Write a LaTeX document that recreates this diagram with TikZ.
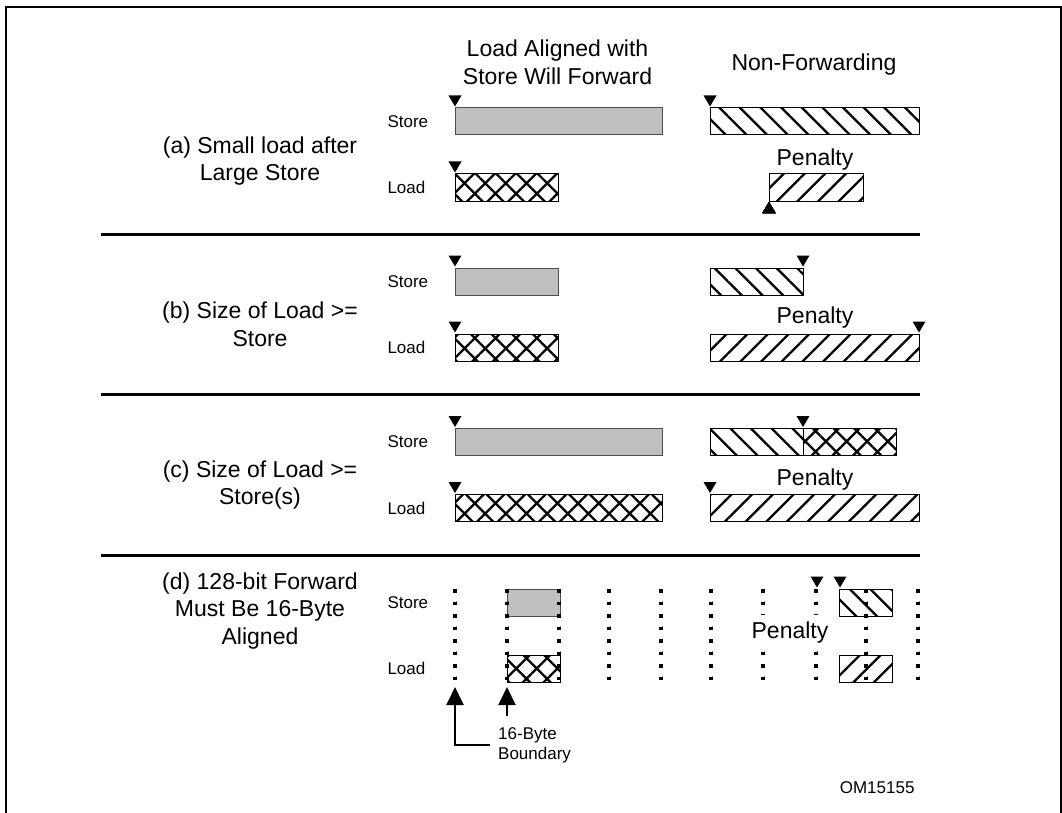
\documentclass[tikz,border=0pt]{standalone}
\usepackage{fontspec}
\setmainfont{Liberation Sans}
\usetikzlibrary{positioning,arrows.meta,patterns.meta}

\definecolor{bargray}{RGB}{192,192,192}
\tikzset{
  bigtxt/.style={font=\fontsize{23}{27.6}\selectfont},
  smalltxt/.style={font=\fontsize{17}{20.7}\selectfont},
  graybar/.style={fill=bargray,draw=black!70,line width=1pt},
  crossbar/.style={pattern={Hatch[angle=45,distance=14.6pt,line width=2.3pt]},draw=black,line width=1pt},
  backbar/.style={pattern={Lines[angle=-45,distance=14.6pt,line width=2.3pt]},draw=black,line width=1pt},
  fwdbar/.style={pattern={Lines[angle=45,distance=14.6pt,line width=2.3pt]},draw=black,line width=1pt},
  sepline/.style={line width=3pt},
  boundline/.style={line width=3.2pt,dash pattern=on 3.5pt off 9pt},
  pointer/.style={line width=2pt,-{Triangle[length=18pt,width=17pt]}},
}
\newcommand\tickdown[2]{\fill (#1,#2) -- ++(-6.5,-11) -- ++(13,0) -- cycle;}
\newcommand\tickup[2]{\fill (#1,#2) -- ++(-6.5,11) -- ++(13,0) -- cycle;}

\begin{document}
\begin{tikzpicture}[x=1pt,y=-1pt]
  \useasboundingbox (0,0) rectangle (1062,813);
  % frame
  \draw[line width=2pt] (5.7,813) -- (5.7,7) -- (1060.5,7) -- (1060.5,813);
  % headings
  \node[bigtxt,align=center] (hdfwd) at (557.5,62.1) {Load Aligned with\\Store Will Forward};
  \node[bigtxt,anchor=base] (hdnon) at (814,71) {Non-Forwarding};
  % case labels
  \node[bigtxt,align=center] (casea) at (260,161) {(a) Small load after\\Large Store};
  \node[bigtxt,align=center] (caseb) at (260,324) {(b) Size of Load >=\\Store};
  \node[bigtxt,align=center] (casec) at (260,485) {(c) Size of Load >=\\Store(s)};
  \node[bigtxt,align=center] (cased) at (260,611) {(d) 128-bit Forward\\Must Be 16-Byte\\Aligned};
  % store / load row names
  \foreach \n/\s in {a/108,b/268,c/428.5,d/589}{
    \node[smalltxt,anchor=west] (st\n) at (384,\s+13.5) {Store};
    \node[smalltxt,anchor=west] (ld\n) at (384,\s+79.5) {Load};
  }
  % penalty labels
  \foreach \n/\y in {a/166,b/323,c/485}
    \node[bigtxt,anchor=base] (pen\n) at (815,\y) {Penalty};
  % separators
  \foreach \y in {234,394.5,555}
    \draw[sepline] (101,\y) -- (920,\y);
  % bars: x1/y1/x2/y2
  \foreach \xa/\ya/\xb/\yb in {455/108/662/135, 455/268/558/295, 455/428.5/662/455.5, 507/589/560/616}
    \draw[graybar] (\xa,\ya) rectangle (\xb,\yb);
  \foreach \xa/\ya/\xb/\yb in {455/174/558/201, 455/334/558/361, 455/494.5/662/521.5, 507/655/560/682, 803/428.5/896/455.5}
    \draw[crossbar] (\xa,\ya) rectangle (\xb,\yb);
  \foreach \xa/\ya/\xb/\yb in {710/108/919/135, 710/268/803/295, 710/428.5/803/455.5, 839/589/892/616}
    \draw[backbar] (\xa,\ya) rectangle (\xb,\yb);
  \foreach \xa/\ya/\xb/\yb in {769/174/863/201, 710/334/919/361, 710/494.5/919/521.5, 839/655/892/682}
    \draw[fwdbar] (\xa,\ya) rectangle (\xb,\yb);
  % start marks
  \foreach \x/\y in {455/106.5, 455/172.5, 710/106.5, 455/266.5, 455/332.5, 803/266.5, 919/332.5,
                     455/427, 455/493, 803/427, 710/493, 817/587.5, 840/587.5}
    \tickdown{\x}{\y}
  \tickup{769}{202}
  % 16-byte boundaries
  \foreach \x in {455,507,559,609,661,711,763,816,866,918}
    \draw[boundline] (\x,589) -- (\x,682);
  \node[bigtxt,anchor=base,fill=white,inner xsep=2pt,inner ysep=6pt] (pend) at (790,638) {Penalty};
  \node[smalltxt,align=left,anchor=west,inner xsep=8pt] (bound) at (490,745.3) {16-Byte\\Boundary};
  \coordinate (tipA) at (455,687);
  \coordinate (tipB) at (507,687);
  \coordinate (tailB) at (507,716);
  \draw[pointer] (bound.west) -| (tipA);
  \draw[pointer] (tailB) -- (tipB);
  % figure id
  \node[smalltxt,anchor=base east] (figid) at (918,793) {OM15155};
\end{tikzpicture}
\end{document}
